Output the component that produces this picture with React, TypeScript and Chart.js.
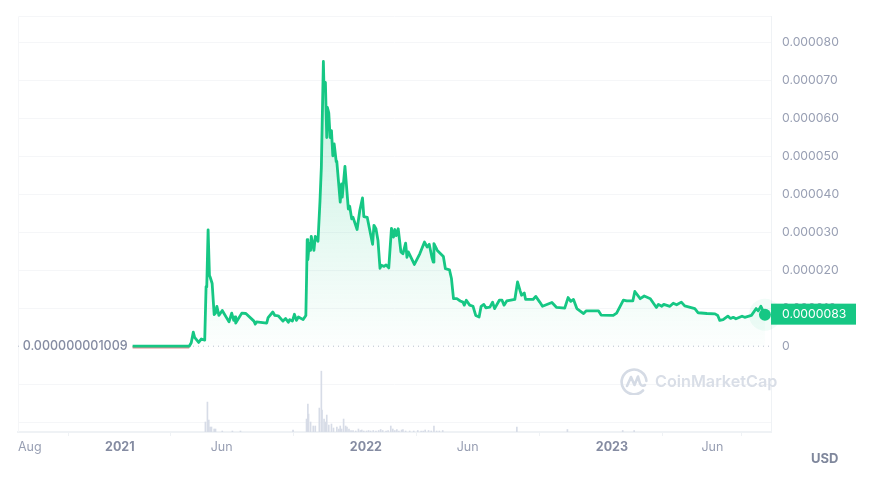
import React, { useEffect, useRef } from 'react';
import { Chart, registerables } from 'chart.js';

Chart.register(...registerables);

const GREEN = '#16c784';
const GRID = '#f5f6f8';
const AXIS = '#eff2f5';
const MUTED = '#989fb3';
const STRONG = '#858ca2';

// x values are days since 2021-01-01, prices are in millionths of a dollar
const days = [
  19, 103, 106, 109, 111, 117, 121, 126, 128, 129, 131, 133, 134, 137, 140, 142, 144, 147, 152, 162,
  166, 169, 171, 172, 181, 187, 199, 201, 203, 218, 220, 227, 230, 235, 242, 246, 250, 252, 256, 259,
  262, 265, 272, 276, 277, 278, 279, 281, 283, 284, 288, 290, 294, 297, 299, 302, 303, 305, 307, 308,
  310, 312, 314, 316, 318, 321, 322, 327, 329, 330, 334, 339, 341, 344, 346, 352, 356, 360, 362, 367,
  375, 377, 380, 383, 386, 388, 392, 395, 399, 403, 406, 408, 410, 413, 417, 420, 424, 426, 428, 437,
  445, 452, 456, 459, 463, 465, 466, 471, 480, 483, 489, 492, 495, 500, 505, 509, 511, 514, 519, 524,
  528, 533, 536, 540, 543, 549, 553, 556, 563, 567, 570, 574, 586, 590, 594, 596, 600, 602, 613, 617,
  623, 627, 641, 648, 660, 665, 669, 673, 678, 688, 692, 710, 714, 732, 737, 747, 752, 761, 764, 772,
  778, 787, 796, 799, 804, 807, 816, 821, 826, 833, 838, 853, 858, 871, 883, 887, 890, 895, 902, 906,
  910, 914, 923, 927, 937, 944, 947, 951, 957,
];
const prices = [
  0.001, 0.001, 0.9, 3.7, 2.3, 1.0, 1.9, 1.6, 15.7, 15.6, 30.6, 18.6, 18.2, 16.5, 8.3, 8.7, 10.5, 8.1, 9.4, 6.4,
  8.7, 6.8, 7.7, 6.1, 8.7, 8.6, 6.6, 5.8, 6.4, 6.1, 7.5, 9.0, 8.1, 8.0, 6.6, 7.3, 6.3, 7.0, 6.6, 8.4,
  6.8, 7.7, 7.0, 8.1, 17.3, 28.0, 22.8, 27.0, 25.2, 28.9, 25.2, 28.9, 27.6, 38.3, 47.1, 74.9, 67.2, 69.4, 54.9, 62.8,
  61.4, 54.9, 56.7, 50.1, 53.2, 48.6, 48.4, 37.9, 42.7, 39.2, 47.3, 36.1, 36.8, 33.5, 33.9, 30.7, 35.7, 39.0, 34.1, 33.9,
  26.8, 31.8, 30.9, 27.8, 20.5, 21.3, 21.0, 21.4, 20.6, 31.0, 28.7, 30.7, 29.1, 30.9, 24.8, 24.3, 27.1, 23.4, 24.8, 21.5,
  24.3, 27.4, 26.1, 26.8, 23.4, 22.1, 27.0, 25.2, 23.6, 20.4, 20.1, 17.8, 12.5, 12.5, 11.9, 11.6, 10.8, 12.1, 10.8, 10.5,
  8.1, 7.7, 10.5, 11.0, 10.1, 10.3, 11.6, 9.9, 12.1, 12.1, 10.8, 11.9, 12.3, 16.9, 14.5, 13.4, 14.0, 12.3, 12.3, 13.1,
  11.6, 10.5, 11.5, 10.2, 10.0, 12.8, 11.8, 12.3, 9.9, 8.6, 9.3, 9.3, 8.2, 8.1, 8.7, 12.1, 11.9, 11.9, 14.4, 12.5,
  13.2, 12.5, 10.2, 11.0, 10.5, 11.0, 10.5, 11.3, 10.9, 11.6, 10.6, 9.9, 8.8, 8.6, 8.5, 8.1, 6.8, 7.0, 7.9, 7.3,
  7.6, 7.2, 7.9, 7.6, 8.1, 9.9, 9.3, 10.5, 8.3,
];

// the short stretch that sits under the opening price
const belowDays = [19, 103];
const belowPrices = [-0.3, -0.3];

// relative traded volume
const volumeDays = [
  127, 130, 132, 134, 136, 140, 142, 152, 167, 179, 257, 277, 279, 280, 283, 287, 290, 296, 299, 300,
  303, 305, 307, 310, 314, 317, 322, 325, 327, 329, 332, 335, 337, 340, 346, 354, 359, 369, 376, 387,
  402, 405, 411, 418, 420, 442, 453, 458, 466, 479, 589, 664, 746, 763,
  343, 350, 357, 362, 366, 372, 380, 384, 390, 395, 398, 408, 414, 424, 430, 436, 447, 450, 462, 470, 474,
];
const volumes = [
  10, 30, 12, 5, 5, 3, 3, 1, 1, 1, 2, 13, 28, 18, 10, 6, 6, 24, 61, 22,
  13, 10, 17, 7, 8, 4, 5, 3, 6, 3, 13, 6, 5, 3, 1.5, 3, 2, 1.5, 1.5, 2.5,
  6, 3, 2.5, 2, 2.5, 1.5, 2, 1.5, 6, 1.5, 5, 2.5, 1.5, 1.5,
  1.5, 1, 1.5, 1, 1, 1, 1, 1.5, 1.5, 1, 1.5, 1.5, 1, 1, 1, 1, 1, 1, 1, 1, 1,
];

const xTickDays = [-151, 0, 151, 365, 516, 730, 879, 966];
const xTickLabels = ['Aug', '2021', 'Jun', '2022', 'Jun', '2023', 'Jun', ''];
const yTicks = [-20, -10, 0, 10, 20, 30, 40, 50, 60, 70, 80];

const openLabel = '0.000000001009';
const lastLabel = '0.0000083';
const lastPrice = prices[prices.length - 1];
const lastDay = days[days.length - 1];

const isYear = (v: number) => xTickLabels[xTickDays.indexOf(v)]?.startsWith('20');

const plotFrame = {
  id: 'plotFrame',
  beforeDatasetsDraw(chart: Chart) {
    const { ctx, chartArea } = chart;
    ctx.save();
    ctx.strokeStyle = GRID;
    ctx.lineWidth = 1;
    ctx.beginPath();
    ctx.moveTo(chartArea.left + 0.5, chartArea.bottom);
    ctx.lineTo(chartArea.left + 0.5, chartArea.top + 0.5);
    ctx.lineTo(chartArea.right, chartArea.top + 0.5);
    ctx.stroke();
    ctx.restore();
  },
};

const overlayLabels = {
  id: 'overlayLabels',
  afterDraw(chart: Chart) {
    const { ctx, chartArea, scales } = chart;
    ctx.save();
    // opening price, left of the line
    const y0 = scales.y.getPixelForValue(0);
    ctx.fillStyle = '#fff';
    ctx.fillRect(23, y0 - 8, 106, 16);
    ctx.font = '500 12.5px Inter';
    ctx.fillStyle = STRONG;
    ctx.textAlign = 'right';
    ctx.textBaseline = 'middle';
    ctx.fillText(openLabel, scales.x.getPixelForValue(days[0]) - 5, y0);
    // current price tag
    const yLast = scales.y.getPixelForValue(lastPrice);
    ctx.fillStyle = GREEN;
    ctx.fillRect(chartArea.right, yLast - 11, 85, 21);
    ctx.font = '12.25px Inter';
    ctx.fillStyle = '#fff';
    ctx.textAlign = 'left';
    ctx.fillText(lastLabel, chartArea.right + 11, yLast);
    ctx.restore();
  },
};

export default function App() {
  const ref = useRef<HTMLCanvasElement>(null);

  useEffect(() => {
    if (!ref.current) return;
    const chart = new Chart(ref.current, {
      type: 'line',
      plugins: [plotFrame, overlayLabels],
      data: {
        datasets: [
          {
            data: [{ x: lastDay, y: lastPrice }],
            pointRadius: 6,
            pointBackgroundColor: GREEN,
            pointBorderWidth: 0,
            showLine: false,
            clip: false,
            order: 0,
          },
          {
            data: days.map((d, i) => ({ x: d, y: prices[i] })),
            borderColor: GREEN,
            borderWidth: 2.8,
            borderJoinStyle: 'round',
            pointRadius: 0,
            tension: 0,
            fill: { value: 0 },
            backgroundColor: (c: any) => {
              const { ctx, chartArea, scales } = c.chart;
              if (!chartArea) return 'transparent';
              const g = ctx.createLinearGradient(0, scales.y.getPixelForValue(75), 0, scales.y.getPixelForValue(0));
              g.addColorStop(0, 'rgba(22,199,132,.26)');
              g.addColorStop(1, 'rgba(22,199,132,.01)');
              return g;
            },
            order: 1,
          },
          {
            data: belowDays.map((d, i) => ({ x: d, y: belowPrices[i] })),
            borderColor: '#e08a90',
            borderWidth: 2.5,
            pointRadius: 0,
            order: 2,
          },
          {
            data: [{ x: lastDay, y: lastPrice }],
            pointRadius: 16,
            pointBackgroundColor: 'rgba(22,199,132,.06)',
            pointBorderWidth: 0,
            showLine: false,
            clip: false,
            order: 3,
          },
          {
            // dotted base line at zero
            data: [{ x: -151, y: 0 }, { x: 966, y: 0 }],
            borderColor: '#b9bfce',
            borderWidth: 1,
            borderDash: [1, 4],
            pointRadius: 0,
            order: 4,
          },
          {
            type: 'bar',
            data: volumeDays.map((d, i) => ({ x: d, y: volumes[i] })),
            backgroundColor: '#d7dce7',
            barThickness: 1,
            grouped: false,
            yAxisID: 'vol',
            order: 5,
          },
        ] as any,
      },
      options: {
        animation: false,
        responsive: false,
        devicePixelRatio: 1,
        parsing: false as any,
        layout: { padding: { left: 18, top: 15, right: 0, bottom: 0 } },
        plugins: { legend: { display: false }, tooltip: { enabled: false } },
        scales: {
          x: {
            type: 'linear',
            offset: false,
            min: -151,
            max: 966,
            afterBuildTicks: (s: any) => { s.ticks = xTickDays.map(v => ({ value: v })); },
            afterFit: (s: any) => { s.height = 48; s.paddingLeft = 0; s.paddingRight = 0; },
            grid: { drawOnChartArea: false, drawTicks: true, tickLength: 4, color: AXIS },
            border: { color: AXIS, width: 2 },
            ticks: {
              autoSkip: false,
              maxRotation: 0,
              align: 'inner',
              padding: 4,
              callback: (v: any) => xTickLabels[xTickDays.indexOf(v)] ?? '',
              color: (c: any) => (c.tick && isYear(c.tick.value) ? STRONG : MUTED),
              font: (c: any) => ({
                family: 'Inter',
                size: 12.5,
                weight: c.tick && isYear(c.tick.value) ? 700 : 400,
              }),
            } as any,
          },
          y: {
            type: 'linear',
            position: 'right',
            min: -22.57,
            max: 86.87,
            afterBuildTicks: (s: any) => { s.ticks = yTicks.map(v => ({ value: v })); },
            afterFit: (s: any) => { s.width = 106; s.paddingTop = 0; s.paddingBottom = 0; },
            grid: {
              drawTicks: false,
              color: (c: any) => (c.tick?.value === 0 ? 'transparent' : GRID),
            },
            border: { color: AXIS, width: 1 },
            ticks: {
              padding: 11,
              color: MUTED,
              font: { family: 'Inter', size: 12.25 },
              callback: (v: any) => (v < 0 ? '' : v === 0 ? '0' : (v / 1e6).toFixed(6)),
            },
          },
          vol: { type: 'linear', display: false, min: 0, max: 417 },
        },
      },
    });
    return () => chart.destroy();
  }, []);

  return (
    <div style={{ position: 'absolute', left: 0, top: 0, width: 877, height: 480, background: '#fff', fontFamily: 'Inter' }}>
      <canvas ref={ref} width={877} height={480} style={{ display: 'block' }} />
      {/* watermark */}
      <svg width={28} height={28} viewBox="0 0 28 28" style={{ position: 'absolute', left: 620, top: 367 }} fill="none" stroke="#d5dbe5" strokeWidth={2.6} strokeLinecap="round" strokeLinejoin="round">
        <path d="M23 23.5A12.4 12.4 0 1 1 26.4 14" />
        <path d="M7 19L11 10L14.5 18L18 9.5L20 16.5Q21.5 20 25 18" />
      </svg>
      <div style={{ position: 'absolute', left: 655, top: 371, fontSize: 16.2, lineHeight: '20px', fontWeight: 600, color: '#d9dee7', whiteSpace: 'nowrap' }}>CoinMarketCap</div>
      <div style={{ position: 'absolute', left: 811, top: 450, fontSize: 13, lineHeight: '16px', fontWeight: 700, color: '#7f879c' }}>USD</div>
    </div>
  );
}
